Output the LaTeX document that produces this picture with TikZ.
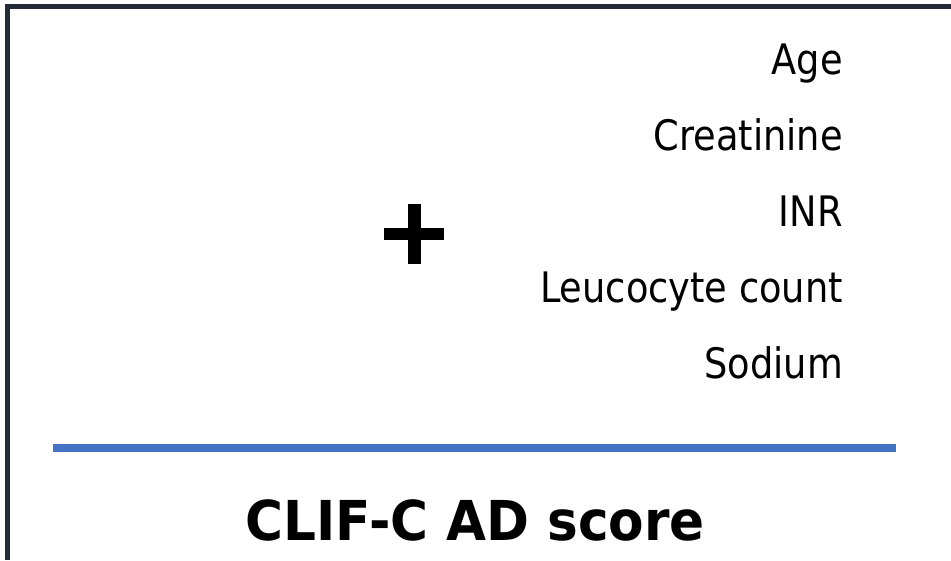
\documentclass[tikz,border=0pt]{standalone}
\usepackage{fontspec}
\newfontfamily\labelfont[FakeStretch=0.875]{DejaVu Sans}
\newfontfamily\titlefont[FakeStretch=0.94]{DejaVu Sans Bold}
\definecolor{framegray}{RGB}{34,42,53}
\definecolor{rulebar}{RGB}{68,114,196}
\begin{document}
\begin{tikzpicture}[x=1pt,y=-1pt,
  var/.style={anchor=base east,inner sep=0pt,font=\labelfont\fontsize{42}{50}\selectfont},
  title/.style={anchor=base,inner sep=0pt,font=\titlefont\fontsize{55}{64}\selectfont}]
  \useasboundingbox (0,0) rectangle (951,560);
  % open frame: left and top edges
  \draw[framegray,line width=5pt] (7,560) -- (7,6.2) -- (951,6.2);
  % variables
  \node[var] (age) at (843,74) {Age};
  \node[var] (creat) at (843,150) {Creatinine};
  \node[var] (inr) at (843,226) {INR};
  \node[var] (wbc) at (843,302) {Leucocyte count};
  \node[var] (na) at (843,378) {Sodium};
  % plus sign
  \fill[black] (408.3,204) rectangle (420.7,264);
  \fill[black] (384,227.8) rectangle (444.3,240.2);
  % separator
  \coordinate (sepL) at (53,448);
  \coordinate (sepR) at (896,448);
  \draw[rulebar,line width=8pt] (sepL) -- (sepR);
  % score title
  \node[title] (score) at (475,540) {CLIF-C AD score};
\end{tikzpicture}
\end{document}
